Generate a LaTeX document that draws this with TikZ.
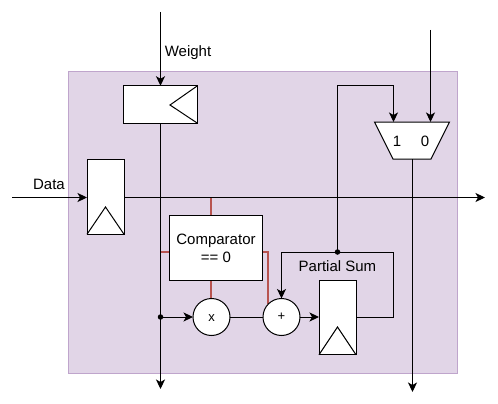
\documentclass[tikz,border=0pt]{standalone}
\usepackage{fontspec}
\setmainfont{Liberation Sans}
\usetikzlibrary{arrows.meta}
\definecolor{bgfill}{HTML}{E1D5E7}
\definecolor{bgline}{HTML}{BFA5CC}
\definecolor{redline}{HTML}{B85450}
\begin{document}
\begin{tikzpicture}[x=1pt,y=-1pt,
  every node/.style={inner sep=0pt,outer sep=0pt,font=\fontsize{15}{18}\selectfont},
  blk/.style={draw=black,fill=white,line width=1pt,rectangle},
  regv/.style={blk,minimum width=37pt,minimum height=74.5pt},
  op/.style={draw=black,fill=white,line width=1pt,circle,minimum size=37pt},
  wire/.style={draw=black,line width=1pt},
  arr/.style={wire,-{Stealth[length=9.5pt,width=9pt,inset=2.5pt]}},
  redw/.style={draw=redline,line width=1.4pt},
  tri/.style={draw=black,line width=1pt,line join=miter},
  dot/.style={circle,fill=black,minimum size=5.5pt},
  small/.style={font=\fontsize{13}{15}\selectfont}]
\useasboundingbox (0,0) rectangle (498,404);
\node[draw=bgline,fill=bgfill,line width=1pt,minimum width=389pt,minimum height=301pt] (bg) at (262.5,222.5) {};

% free ends
\coordinate (wtop) at (160.5,12);
\coordinate (wbot) at (160.5,389);
\coordinate (din) at (12,197.5);
\coordinate (dout) at (485,197.5);
\coordinate (mux0top) at (430.5,30);
\coordinate (muxbot) at (412.5,392);
\coordinate (mux1in) at (393.5,122);
\coordinate (mux0in) at (430.5,122);
\coordinate (muxout) at (412.5,159);
\coordinate (bendA) at (337.5,85.5);
\coordinate (bendB) at (393.5,85.5);
\coordinate (j1) at (160.5,317);
\coordinate (j2) at (337.5,252);
\coordinate (fbR) at (393,317);
\coordinate (fbT) at (393,252);
\coordinate (fbL) at (281.5,252);
\coordinate (ra) at (211,197.5);
\coordinate (rb) at (160.5,252);
\coordinate (rc) at (268,252);
\coordinate (rd) at (268,304);

% red wires
\draw[redw] (ra) -- (211,215);
\draw[redw] (rb) -- (170,252);
\draw[redw] (211,280) -- (211,299);
\draw[redw] (262,252) -- (rc) -- (rd);

% blocks
\node[regv] (dreg) at (105.5,197) {};
\node[blk,minimum width=74pt,minimum height=37.5pt] (wreg) at (160.5,104.5) {};
\node[blk,minimum width=93pt,minimum height=65pt] (cmp) at (216,247.5) {};
\node[op] (mul) at (211.5,317) {};
\node[op] (add) at (281.5,317) {};
\node[regv] (preg) at (337.5,317.5) {};
\draw[draw=black,fill=white,line width=1pt,line join=miter] (374.5,122) -- (449.5,122) -- (431,159) -- (393,159) -- cycle;

% black wires
\draw[arr] (wtop) -- (wreg.north);
\draw[arr] (wreg.south) -- (wbot);
\draw[arr] (din) -- (dreg.west |- din);
\draw[arr] (dreg.east |- dout) -- (dout);
\draw[arr] (j1) -- (mul.west);
\draw[wire] (mul.east) -- (add.west);
\draw[arr] (add.east) -- (preg.west |- add.east);
\draw[wire] (preg.east |- fbR) -- (fbR) -- (fbT) -- (fbL);
\draw[arr] (fbL) -- (add.north);
\draw[wire] (j2) -- (bendA) -- (bendB);
\draw[arr] (bendB) -- (mux1in);
\draw[arr] (mux0top) -- (mux0in);
\draw[arr] (muxout) -- (muxbot);
\node[dot] (d1) at (j1) {};
\node[dot] (d2) at (j2) {};

% clock triangles
\draw[tri] (wreg.north east) -- (170,105) -- (wreg.south east);
\draw[tri] (dreg.south west) -- (105.5,207) -- (dreg.south east);
\draw[tri] (preg.south west) -- (337.5,327) -- (preg.south east);

% labels
\node (lw) at (188,53) {Weight};
\node (ld) at (49,184.5) {Data};
\node[align=center] (lc) at (216,248.5) {Comparator\\== 0};
\node[small] (lm) at (211.5,318) {x};
\node[small] (la) at (281.5,317) {+};
\node (lp) at (337.5,266.5) {Partial Sum};
\node (l1) at (397,141.5) {1};
\node (l0) at (425,141.5) {0};
\end{tikzpicture}
\end{document}
